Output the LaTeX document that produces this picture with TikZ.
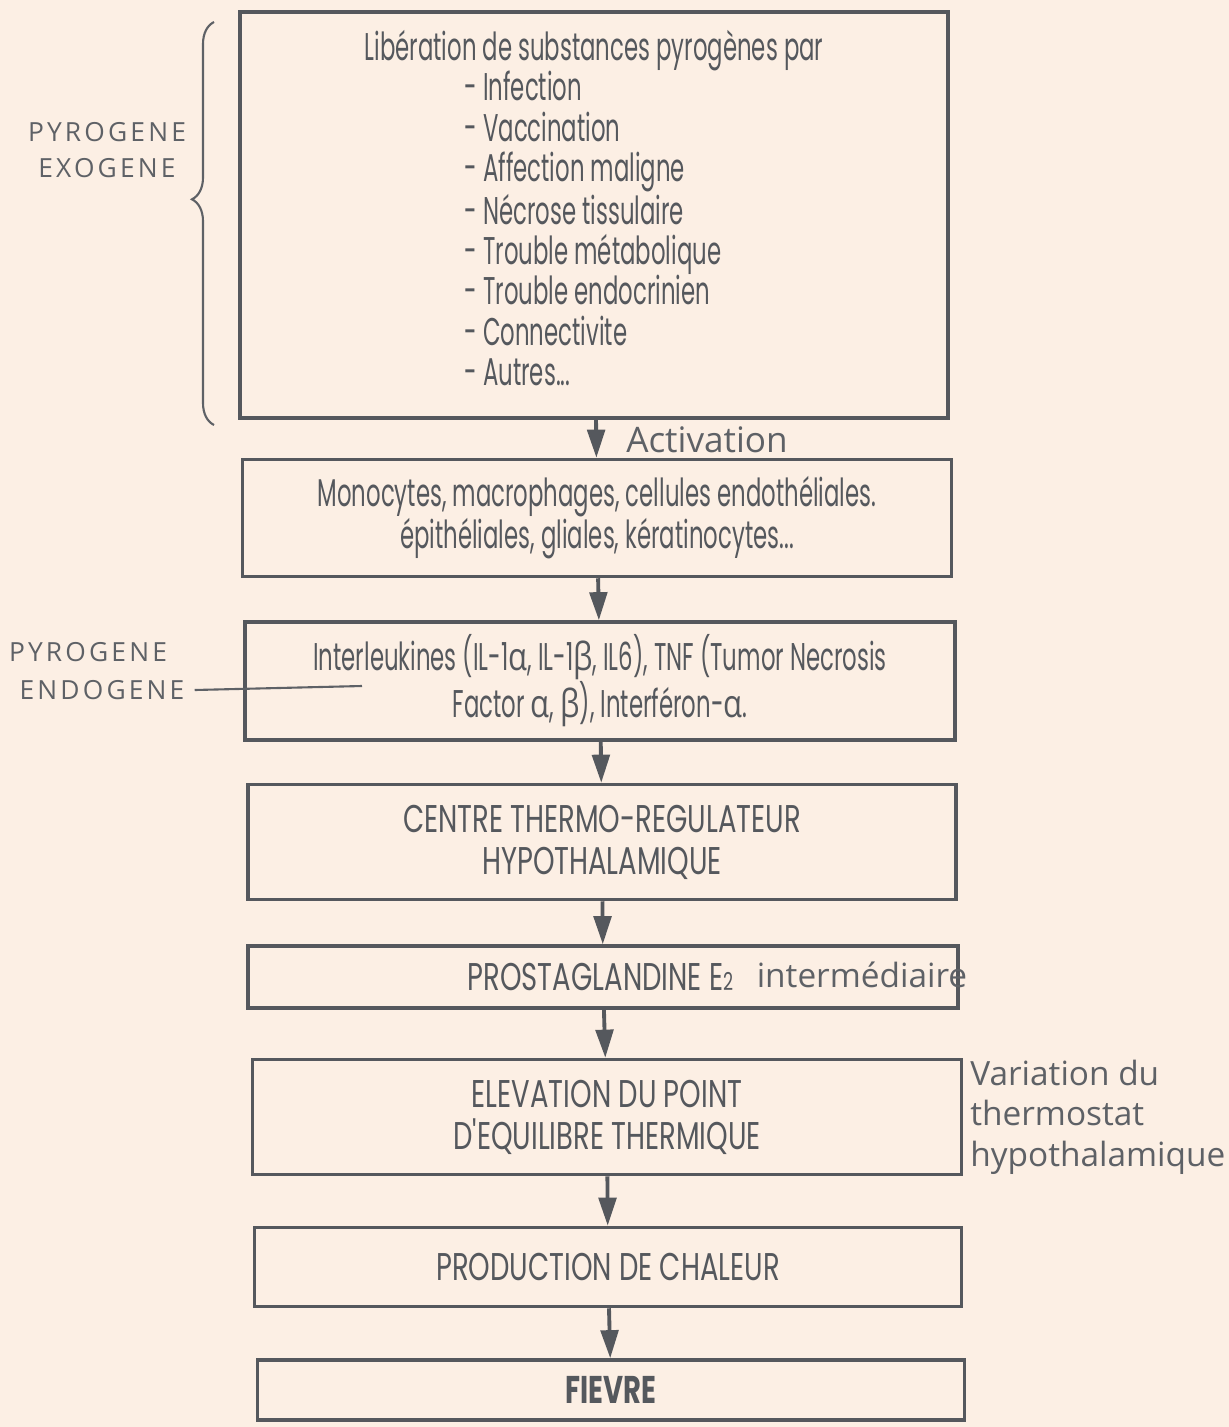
\documentclass[tikz,border=0pt]{standalone}
\usepackage{fontspec}
\setmainfont{Poppins}[FakeStretch=0.59]
\newfontfamily\capsfont{Poppins}[FakeStretch=0.71]
\newfontfamily\handfont{Open Sans}
\newfontfamily\greekfont{Open Sans}[FakeStretch=0.8]
\usepackage{tikz}
\usetikzlibrary{arrows.meta,decorations.pathreplacing}
\definecolor{paper}{HTML}{FCEFE4}
\definecolor{ink}{HTML}{55585D}
\definecolor{pen}{HTML}{5E6166}
\newcommand{\galpha}{{\greekfont α}}
\newcommand{\gbeta}{{\greekfont β}}

\begin{document}
\begin{tikzpicture}[x=0.02cm,y=-0.02cm,
   box/.style={draw=ink,line width=2pt,rectangle,inner sep=0pt,text=ink,align=center,font=\fontsize{22}{24}\selectfont},
   capsbox/.style={box,font=\capsfont\fontsize{22}{24}\selectfont},
   arr/.style={draw=ink,line width=2.2pt,arrows={-Triangle[length=16pt,width=10pt]}},
   hand/.style={text=pen,inner sep=0pt,font=\handfont\fontsize{20}{24}\selectfont},
   caps/.style={text=pen,inner sep=0pt,align=center,font=\handfont\fontsize{15}{20}\selectfont\addfontfeatures{LetterSpace=12}},
   penline/.style={draw=pen,line width=1.2pt}]

   \fill[paper] (0,0) rectangle (1229,1427);
   \useasboundingbox (0,0) rectangle (1229,1427);

   \draw (594,215) node[box,minimum width=14.16cm,minimum height=8.12cm,align=left,font=\fontsize{22}{23}\selectfont] (liberation) {Libération de substances pyrogènes par\\
      \hspace*{2cm}- Infection\\ \hspace*{2cm}- Vaccination\\ \hspace*{2cm}- Affection maligne\\
      \hspace*{2cm}- Nécrose tissulaire\\ \hspace*{2cm}- Trouble métabolique\\ \hspace*{2cm}- Trouble endocrinien\\
      \hspace*{2cm}- Connectivite\\ \hspace*{2cm}- Autres...\\[-0.53cm]};
   \draw (597,518) node[box,minimum width=14.18cm,minimum height=2.34cm] (cellules) {Monocytes, macrophages, cellules endothéliales.\\épithéliales, gliales, kératinocytes...};
   \draw (600,681) node[box,minimum width=14.2cm,minimum height=2.36cm] (interleukines) {Interleukines (IL-1\galpha, IL-1\gbeta, IL6), TNF (Tumor Necrosis\\Factor \galpha, \gbeta), Interféron-\galpha.};
   \draw (602,842) node[capsbox,minimum width=14.16cm,minimum height=2.3cm] (centre) {CENTRE THERMO-REGULATEUR\\HYPOTHALAMIQUE};
   \draw (603,977) node[capsbox,minimum width=14.2cm,minimum height=1.24cm] (prostaglandine) {PROSTAGLANDINE E{\fontsize{14}{14}\selectfont 2}\hspace*{0.1cm}};
   \draw (607,1117) node[capsbox,minimum width=14.18cm,minimum height=2.3cm] (elevation) {ELEVATION DU POINT\\D'EQUILIBRE THERMIQUE};
   \draw (608,1267) node[capsbox,minimum width=14.14cm,minimum height=1.58cm] (production) {PRODUCTION DE CHALEUR};
   \draw (611,1390) node[capsbox,minimum width=14.14cm,minimum height=1.2cm] (fievre) {\bfseries FIEVRE};

   \draw (107,150) node[caps] (exogene) {PYROGENE\\EXOGENE};
   \draw (88,652) node[caps] (pyrogene) {PYROGENE};
   \draw (102,690) node[caps] (endogene) {ENDOGENE};
   \draw (707,440) node[hand] (activation) {Activation};
   \draw (862,975) node[hand,font=\handfont\fontsize{19}{24}\selectfont] (intermediaire) {intermédiaire};
   \draw (970,1117) node[hand,anchor=west,align=left,font=\handfont\fontsize{19}{23}\selectfont] (variation) {Variation du\\thermostat\\hypothalamique};

   \coordinate (bracebot) at (214,425);
   \coordinate (bracetop) at (214,22);
   \coordinate (endotip) at (362,686);

   \draw[arr] (liberation) -- (cellules);
   \draw[arr] (cellules) -- (interleukines);
   \draw[arr] (interleukines) -- (centre);
   \draw[arr] (centre) -- (prostaglandine);
   \draw[arr] (prostaglandine) -- (elevation);
   \draw[arr] (elevation) -- (production);
   \draw[arr] (production) -- (fievre);

   \draw[penline,decorate,decoration={brace,amplitude=0.44cm,aspect=0.56}] (bracebot) -- (bracetop);
   \draw[penline] ([xshift=0.2cm]endogene.east) -- (endotip);

\end{tikzpicture}
\end{document}
